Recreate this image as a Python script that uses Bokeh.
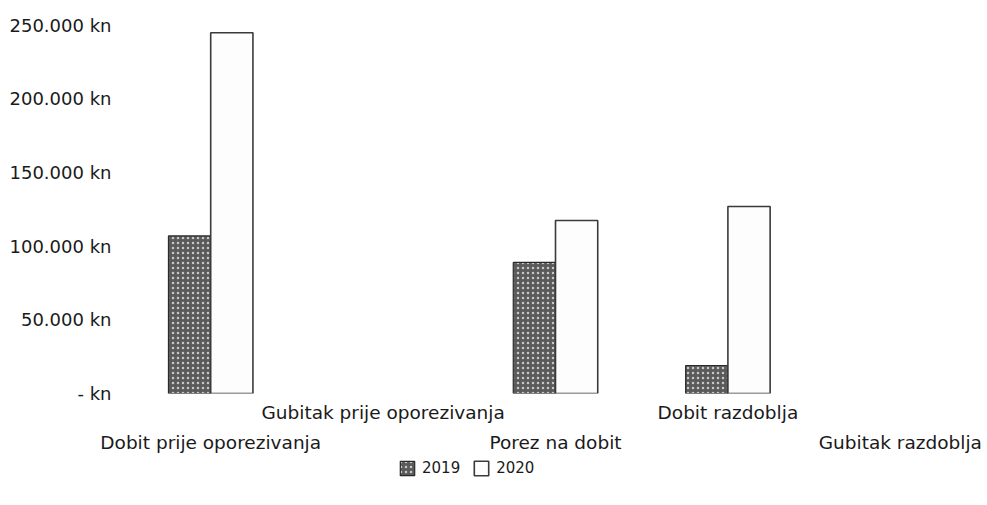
from bokeh.plotting import figure
from bokeh.layouts import column
from bokeh.models import (ColumnDataSource, LinearAxis, FixedTicker, Range1d,
                          Legend, LegendItem)
from bokeh.embed import file_html
from bokeh.resources import INLINE

# ---- data ----
categories = ["Dobit prije oporezivanja", "Gubitak prije oporezivanja",
              "Porez na dobit", "Dobit razdoblja", "Gubitak razdoblja"]
values_2019 = [107000, None, 89000, 19000, None]
values_2020 = [245000, None, 117500, 127000, None]
series_names = ["2019", "2020"]
y_ticks = [0, 50000, 100000, 150000, 200000, 250000]
y_tick_labels = ["- kn", "50.000 kn", "100.000 kn", "150.000 kn",
                 "200.000 kn", "250.000 kn"]

FONT = "DejaVu Sans"
TXT = "#1a1a1a"
STYLE19 = dict(fill_color="#5a5a5a", line_color="#2a2a2a", line_width=1.2,
               hatch_pattern="dot", hatch_color="#c8c8c8", hatch_scale=5,
               hatch_weight=1)
STYLE20 = dict(fill_color="#fdfdfd", line_color="#3a3a3a", line_width=1.6)

idx = list(range(len(categories)))
centers = [i + 0.5 for i in idx]
bw = 0.245
nan = float("nan")
src = ColumnDataSource(dict(
    x19=[c - bw / 2 for c in centers],
    x20=[c + bw / 2 for c in centers],
    v19=[nan if v is None else v for v in values_2019],
    v20=[nan if v is None else v for v in values_2020],
))

p = figure(frame_width=862, frame_height=377, output_backend="svg",
           toolbar_location=None, x_range=Range1d(0, len(categories)),
           y_range=Range1d(0, 256000), x_axis_location=None,
           y_axis_location=None,
           min_border_left=124, min_border_right=1, min_border_top=16,
           min_border_bottom=0)
p.outline_line_color = None
p.xgrid.visible = False
p.ygrid.visible = False
p.background_fill_color = "white"
p.border_fill_color = "white"

r19 = p.vbar(x="x19", top="v19", width=bw, source=src, **STYLE19)
r20 = p.vbar(x="x20", top="v20", width=bw, source=src, **STYLE20)

# y axis
yax = LinearAxis(ticker=FixedTicker(ticks=y_ticks),
                 major_label_overrides={t: l for t, l in zip(y_ticks, y_tick_labels)})
yax.axis_line_color = None
yax.major_tick_line_color = None
yax.minor_tick_line_color = None
yax.major_label_standoff = 7
yax.major_label_text_font = FONT
yax.major_label_text_font_size = "18px"
yax.major_label_text_color = TXT
p.add_layout(yax, "left")

# staggered category axes
def cat_axis(sel, standoff):
    ax = LinearAxis(ticker=FixedTicker(ticks=[centers[i] for i in sel]),
                    major_label_overrides={centers[i]: categories[i] for i in sel})
    ax.axis_line_color = None
    ax.major_tick_line_color = None
    ax.minor_tick_line_color = None
    ax.major_label_standoff = standoff
    ax.major_label_text_font = FONT
    ax.major_label_text_font_size = "18.5px"
    ax.major_label_text_color = TXT
    return ax

p.add_layout(cat_axis([i for i in idx if i % 2 == 1], 2), "below")
p.add_layout(cat_axis([i for i in idx if i % 2 == 0], 0), "below")

# legend strip (swatch renderers carry no drawable data)
lg = figure(width=987, height=36, output_backend="svg", toolbar_location=None,
            x_range=Range1d(0, 1), y_range=Range1d(0, 1),
            x_axis_location=None, y_axis_location=None,
            min_border_left=0, min_border_right=0, min_border_top=0,
            min_border_bottom=0)
lg.outline_line_color = None
lg.xgrid.visible = False
lg.ygrid.visible = False
lg.border_fill_color = "white"
l19 = lg.vbar(x=[nan], top=[nan], width=0.1, **STYLE19)
l20 = lg.vbar(x=[nan], top=[nan], width=0.1, **STYLE20)
legend = Legend(items=[LegendItem(label=series_names[0], renderers=[l19]),
                       LegendItem(label=series_names[1], renderers=[l20])],
                orientation="horizontal", location=(274, 14),
                padding=0, margin=0, spacing=12, glyph_width=18,
                glyph_height=18, label_standoff=6,
                border_line_color=None, background_fill_alpha=0,
                label_text_font=FONT, label_text_font_size="15px",
                label_text_color=TXT)
lg.add_layout(legend, "center")

open("out.html", "w").write(file_html(column(p, lg, spacing=0), INLINE))
